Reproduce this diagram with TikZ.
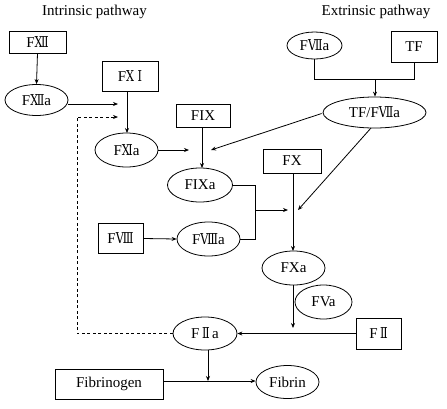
\documentclass[tikz,border=0pt]{standalone}
\usepackage{fontspec}
\setmainfont{Liberation Serif}
\newfontfamily\rnf{DejaVu Serif}
\usetikzlibrary{shapes.geometric,arrows.meta}
\newcommand{\rn}[1]{{\rnf\scalebox{0.75}[1]{#1}}}
\begin{document}
\begin{tikzpicture}[x=1pt,y=-1pt,
  every node/.style={font=\fontsize{15}{17}\selectfont},
  boxn/.style={draw,rectangle,inner sep=0pt,line width=0.8pt},
  elln/.style={draw,ellipse,inner sep=0pt,line width=0.8pt},
  conn/.style={line width=0.8pt},
  arr/.style={line width=0.8pt,-{Stealth[length=5pt,width=4pt]}},
  darr/.style={arr,dashed,dash pattern=on 3pt off 2.5pt}]
\useasboundingbox (0,0) rectangle (447,408);
% titles
\node (intr) at (94.5,12) {Intrinsic pathway};
\node (extr) at (376,12) {Extrinsic pathway};
% boxes
\node[boxn,minimum width=57pt,minimum height=22pt] (f12) at (37.5,42) {F\rn{Ⅻ}};
\node[boxn,minimum width=56pt,minimum height=30pt] (f11) at (130,76) {F\rn{Ⅹ Ⅰ}};
\node[boxn,minimum width=54pt,minimum height=23pt] (f9) at (203,115.5) {FIX};
\node[boxn,minimum width=45pt,minimum height=30pt] (f8) at (120.5,238.5) {F\rn{Ⅷ}};
\node[boxn,minimum width=58pt,minimum height=24pt] (fx) at (292,161) {FX};
\node[boxn,minimum width=45pt,minimum height=31pt] (f2) at (378.5,333.5) {F\,\rn{Ⅱ}};
\node[boxn,minimum width=108pt,minimum height=30pt] (fbg) at (109,384) {Fibrinogen};
\node[boxn,minimum width=46pt,minimum height=31pt] (tf) at (414,46.5) {TF};
% ellipses
\node[elln,minimum width=63pt,minimum height=31pt] (f12a) at (36.5,100) {F\rn{Ⅻ}a};
\node[elln,minimum width=63pt,minimum height=34pt] (f11a) at (126.5,150) {F\rn{Ⅺ}a};
\node[elln,minimum width=65pt,minimum height=34pt] (f9a) at (200,185) {FIXa};
\node[elln,minimum width=63pt,minimum height=34pt] (f8a) at (208.5,239) {F\rn{Ⅷ}a};
\node[elln,minimum width=63pt,minimum height=34pt] (fxa) at (293.5,268) {FXa};
\node[elln,minimum width=57pt,minimum height=34pt] (fva) at (323.5,302) {FVa};
\node[elln,minimum width=64pt,minimum height=33pt] (f2a) at (205,333.5) {F\,\rn{Ⅱ}\,a};
\node[elln,minimum width=63pt,minimum height=33pt] (fib) at (287.5,382) {Fibrin};
\node[elln,minimum width=55pt,minimum height=27pt] (f7a) at (314.5,45.5) {F\rn{Ⅶ}a};
\node[elln,minimum width=103pt,minimum height=31pt] (tff) at (374.5,112.5) {TF/F\rn{Ⅶ}a};
% free-end coordinates
\coordinate (p12) at (118,104);
\coordinate (pd) at (118,117);
\coordinate (p11a) at (189,150);
\coordinate (ptf9) at (211,150);
\coordinate (pj) at (255,210);
\coordinate (pjt) at (288,210);
\coordinate (ptfx) at (298,210);
\coordinate (pfxa) at (293,328);
\coordinate (p2a) at (208,381);
\coordinate (pjoin) at (375,79);
% connectors
\draw[arr] (f12.south) -- (f12a.north);
\draw[arr] (f12a.east |- p12) -- (p12);
\draw[darr] (f2a.west) -- (77,333.5) -- (77,117) -- (pd);
\draw[arr] (f11.south -| 127,0) -- (127,133);
\draw[arr] (f11a.east) -- (p11a);
\draw[arr] (202,127) -- (202,168);
\draw[arr] (tff.west) ++(-1,1) -- (ptf9);
\draw[arr] (f8.east) -- (f8a.west);
\draw[conn] (f9a.east) -- (255,185) -- (255,239) -- (f8a.east);
\draw[arr] (pj) -- (pjt);
\draw[arr] (fx.south -| 293,0) -- (293,251);
\draw[arr] (371,128) -- (ptfx);
\draw[conn] (f7a.south) -- (f7a.south |- pjoin) -- (tf.south |- pjoin) -- (tf.south);
\draw[arr] (pjoin) -- (tff.north -| pjoin);
\draw[arr] (fxa.south -| pfxa) -- (pfxa);
\draw[arr] (f2.west) -- (f2a.east);
\draw[arr] (208,350) -- (p2a);
\draw[arr] (fbg.east |- p2a) -- (fib.west |- p2a);
\end{tikzpicture}
\end{document}
